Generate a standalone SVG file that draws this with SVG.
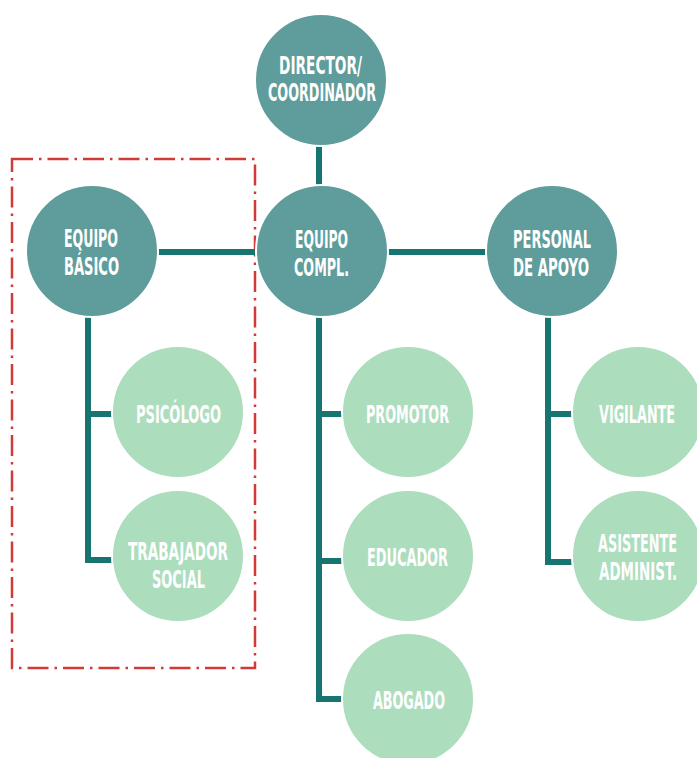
<svg xmlns="http://www.w3.org/2000/svg" width="697" height="758" viewBox="0 0 697 758">
<style>
.dark{fill:#5e9d9b;stroke:#ffffff;stroke-width:2}
.light{fill:#acddbd;stroke:#ffffff;stroke-width:2}
.conn{fill:none;stroke:#167570;stroke-width:6;stroke-linejoin:miter;stroke-linecap:butt}
.lbl{font-family:"DejaVu Sans Condensed","DejaVu Sans",sans-serif;font-weight:bold;font-size:24px;fill:#ffffff}
.frame{fill:none;stroke:#d23a3a;stroke-width:2.5;stroke-dasharray:21 6 2.5 6}
</style>
<rect class="frame" x="12" y="159" width="243" height="509"/>
<g id="connectors">
<path class="conn" d="M319,146 V185"/>
<path class="conn" d="M158,252 H256"/>
<path class="conn" d="M388,252 H486"/>
<path class="conn" d="M88,317 V560 H112"/>
<path class="conn" d="M88,414 H112"/>
<path class="conn" d="M319,317 V699 H342"/>
<path class="conn" d="M319,414 H342"/>
<path class="conn" d="M319,561 H342"/>
<path class="conn" d="M548,317 V562 H572"/>
<path class="conn" d="M548,414 H572"/>
</g>
<g id="director">
<circle class="dark" cx="321" cy="80" r="66"/>
<text class="lbl" transform="matrix(0.6 0 0 1 279 74)" textLength="138.3" lengthAdjust="spacingAndGlyphs">DIRECTOR/</text>
<text class="lbl" transform="matrix(0.6 0 0 1 268 101)" textLength="180" lengthAdjust="spacingAndGlyphs">COORDINADOR</text>
</g>
<g id="equipo-basico">
<circle class="dark" cx="92" cy="251" r="66"/>
<text class="lbl" transform="matrix(0.6 0 0 1 64 247)" textLength="90" lengthAdjust="spacingAndGlyphs">EQUIPO</text>
<text class="lbl" transform="matrix(0.6 0 0 1 64 275)" textLength="91.7" lengthAdjust="spacingAndGlyphs">BÁSICO</text>
</g>
<g id="equipo-compl">
<circle class="dark" cx="322" cy="251" r="66"/>
<text class="lbl" transform="matrix(0.6 0 0 1 295 248)" textLength="88.3" lengthAdjust="spacingAndGlyphs">EQUIPO</text>
<text class="lbl" transform="matrix(0.6 0 0 1 294 276)" textLength="91.7" lengthAdjust="spacingAndGlyphs">COMPL.</text>
</g>
<g id="personal-apoyo">
<circle class="dark" cx="552" cy="251" r="66"/>
<text class="lbl" transform="matrix(0.6 0 0 1 513 248)" textLength="130" lengthAdjust="spacingAndGlyphs">PERSONAL</text>
<text class="lbl" transform="matrix(0.6 0 0 1 513 276)" textLength="126.7" lengthAdjust="spacingAndGlyphs">DE APOYO</text>
</g>
<g id="psicologo">
<circle class="light" cx="178" cy="412" r="66"/>
<text class="lbl" transform="matrix(0.6 0 0 1 136 423)" textLength="141.7" lengthAdjust="spacingAndGlyphs">PSICÓLOGO</text>
</g>
<g id="trabajador-social">
<circle class="light" cx="178" cy="556" r="66"/>
<text class="lbl" transform="matrix(0.6 0 0 1 128 560)" textLength="166.7" lengthAdjust="spacingAndGlyphs">TRABAJADOR</text>
<text class="lbl" transform="matrix(0.6 0 0 1 152 588)" textLength="88.3" lengthAdjust="spacingAndGlyphs">SOCIAL</text>
</g>
<g id="promotor">
<circle class="light" cx="408" cy="412" r="66"/>
<text class="lbl" transform="matrix(0.6 0 0 1 366 423)" textLength="138.3" lengthAdjust="spacingAndGlyphs">PROMOTOR</text>
</g>
<g id="educador">
<circle class="light" cx="408" cy="556" r="66"/>
<text class="lbl" transform="matrix(0.6 0 0 1 367 566)" textLength="135" lengthAdjust="spacingAndGlyphs">EDUCADOR</text>
</g>
<g id="abogado">
<circle class="light" cx="408" cy="699" r="66"/>
<text class="lbl" transform="matrix(0.6 0 0 1 373 709)" textLength="120" lengthAdjust="spacingAndGlyphs">ABOGADO</text>
</g>
<g id="vigilante">
<circle class="light" cx="638" cy="412" r="66"/>
<text class="lbl" transform="matrix(0.6 0 0 1 599 423)" textLength="126.7" lengthAdjust="spacingAndGlyphs">VIGILANTE</text>
</g>
<g id="asistente-administ">
<circle class="light" cx="638" cy="556" r="66"/>
<text class="lbl" transform="matrix(0.6 0 0 1 598 552)" textLength="131.7" lengthAdjust="spacingAndGlyphs">ASISTENTE</text>
<text class="lbl" transform="matrix(0.6 0 0 1 599 580)" textLength="130" lengthAdjust="spacingAndGlyphs">ADMINIST.</text>
</g>
</svg>
